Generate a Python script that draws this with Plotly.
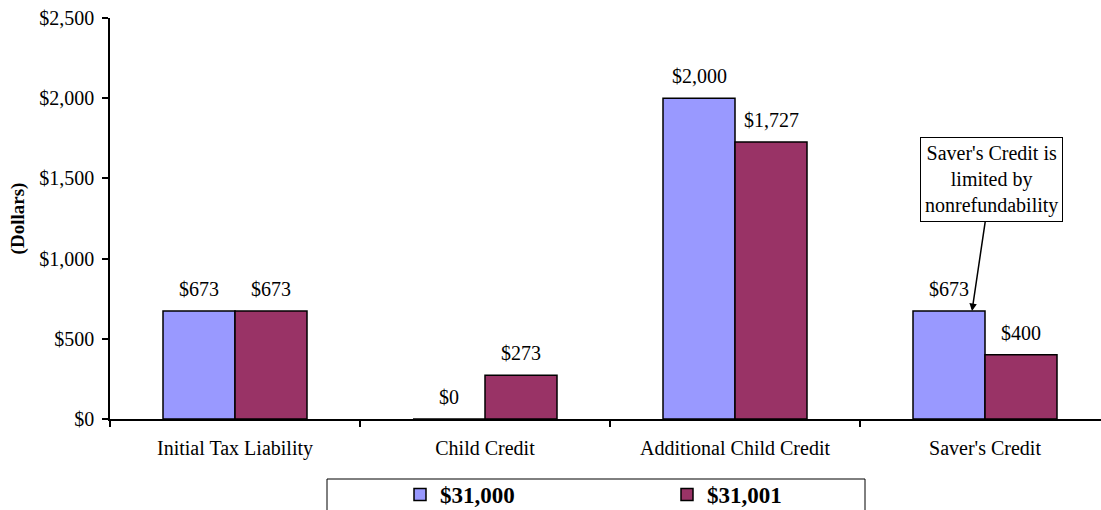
import plotly.graph_objects as go

categories = ["Initial Tax Liability", "Child Credit", "Additional Child Credit", "Saver's Credit"]
series_names = ["$31,000", "$31,001"]
values_31000 = [673, 0, 2000, 673]
values_31001 = [673, 273, 1727, 400]
y_tickvals = [0, 500, 1000, 1500, 2000, 2500]
y_ticktext = ["$0", "$500", "$1,000", "$1,500", "$2,000", "$2,500"]
colors = ["#9999FF", "#993366"]
note_text = "Saver's Credit is<br>limited by<br>nonrefundability"

FONT = "'Liberation Serif', 'Times New Roman', serif"

fig = go.Figure()
for name, vals, col in zip(series_names, [values_31000, values_31001], colors):
    fig.add_trace(go.Bar(
        x=categories, y=vals, name=name,
        marker=dict(color=col, line=dict(color="black", width=1.5)),
    ))

annotations = []
for k, vals in enumerate([values_31000, values_31001]):
    shift = -36 if k == 0 else 36
    for i, v in enumerate(vals):
        annotations.append(dict(
            x=i, y=v, xref="x", yref="y", text="${:,}".format(v),
            showarrow=False, xshift=shift, yshift=9, yanchor="bottom",
            font=dict(family=FONT, size=20, color="black"),
        ))

annotations.append(dict(
    x=2.948, y=673, xref="x", yref="y", text=note_text,
    showarrow=True, ax=19.5, ay=-132, arrowhead=2, arrowsize=1, arrowwidth=1.5,
    arrowcolor="black", standoff=0,
    bgcolor="white", bordercolor="black", borderwidth=1, borderpad=4,
    font=dict(family=FONT, size=20, color="black"),
))

fig.update_layout(
    width=1101, height=510,
    margin=dict(l=110, r=0, t=18, b=91, autoexpand=False),
    paper_bgcolor="white", plot_bgcolor="white",
    font=dict(family=FONT, size=20, color="black"),
    barmode="group", bargap=0.424, bargroupgap=0,
    showlegend=True,
    legend=dict(
        orientation="h", xref="container", yref="container",
        x=400 / 1101, y=1 - 473 / 510, xanchor="left", yanchor="top",
        entrywidth=222, entrywidthmode="pixels",
        font=dict(family=FONT, size=23, color="black", weight="bold"),
        bgcolor="rgba(0,0,0,0)", borderwidth=0,
    ),
    annotations=annotations,
    shapes=[dict(
        type="rect", xref="paper", yref="paper",
        x0=(327 - 110) / 991, x1=(865 - 110) / 991,
        y0=-(479 - 419) / 401, y1=-0.4,
        line=dict(color="black", width=1), fillcolor="rgba(0,0,0,0)", layer="below",
    )],
)

fig.update_xaxes(
    type="category", range=[-0.5, 3.464],
    showline=True, linecolor="black", linewidth=1.5,
    ticks="outside", tickson="boundaries", ticklen=6, tickcolor="black", tickwidth=1.5,
    ticklabelstandoff=10,
    showgrid=False, zeroline=False,
    tickfont=dict(family=FONT, size=20),
)
fig.update_yaxes(
    range=[0, 2500], tickvals=y_tickvals, ticktext=y_ticktext,
    showline=True, linecolor="black", linewidth=1.5,
    ticks="outside", ticklen=6, tickcolor="black", tickwidth=1.5,
    ticklabelstandoff=4,
    showgrid=False, zeroline=False,
    tickfont=dict(family=FONT, size=20),
    title=dict(text="<b>(Dollars)</b>", font=dict(family=FONT, size=19), standoff=10),
)

fig.write_html("out.html")
